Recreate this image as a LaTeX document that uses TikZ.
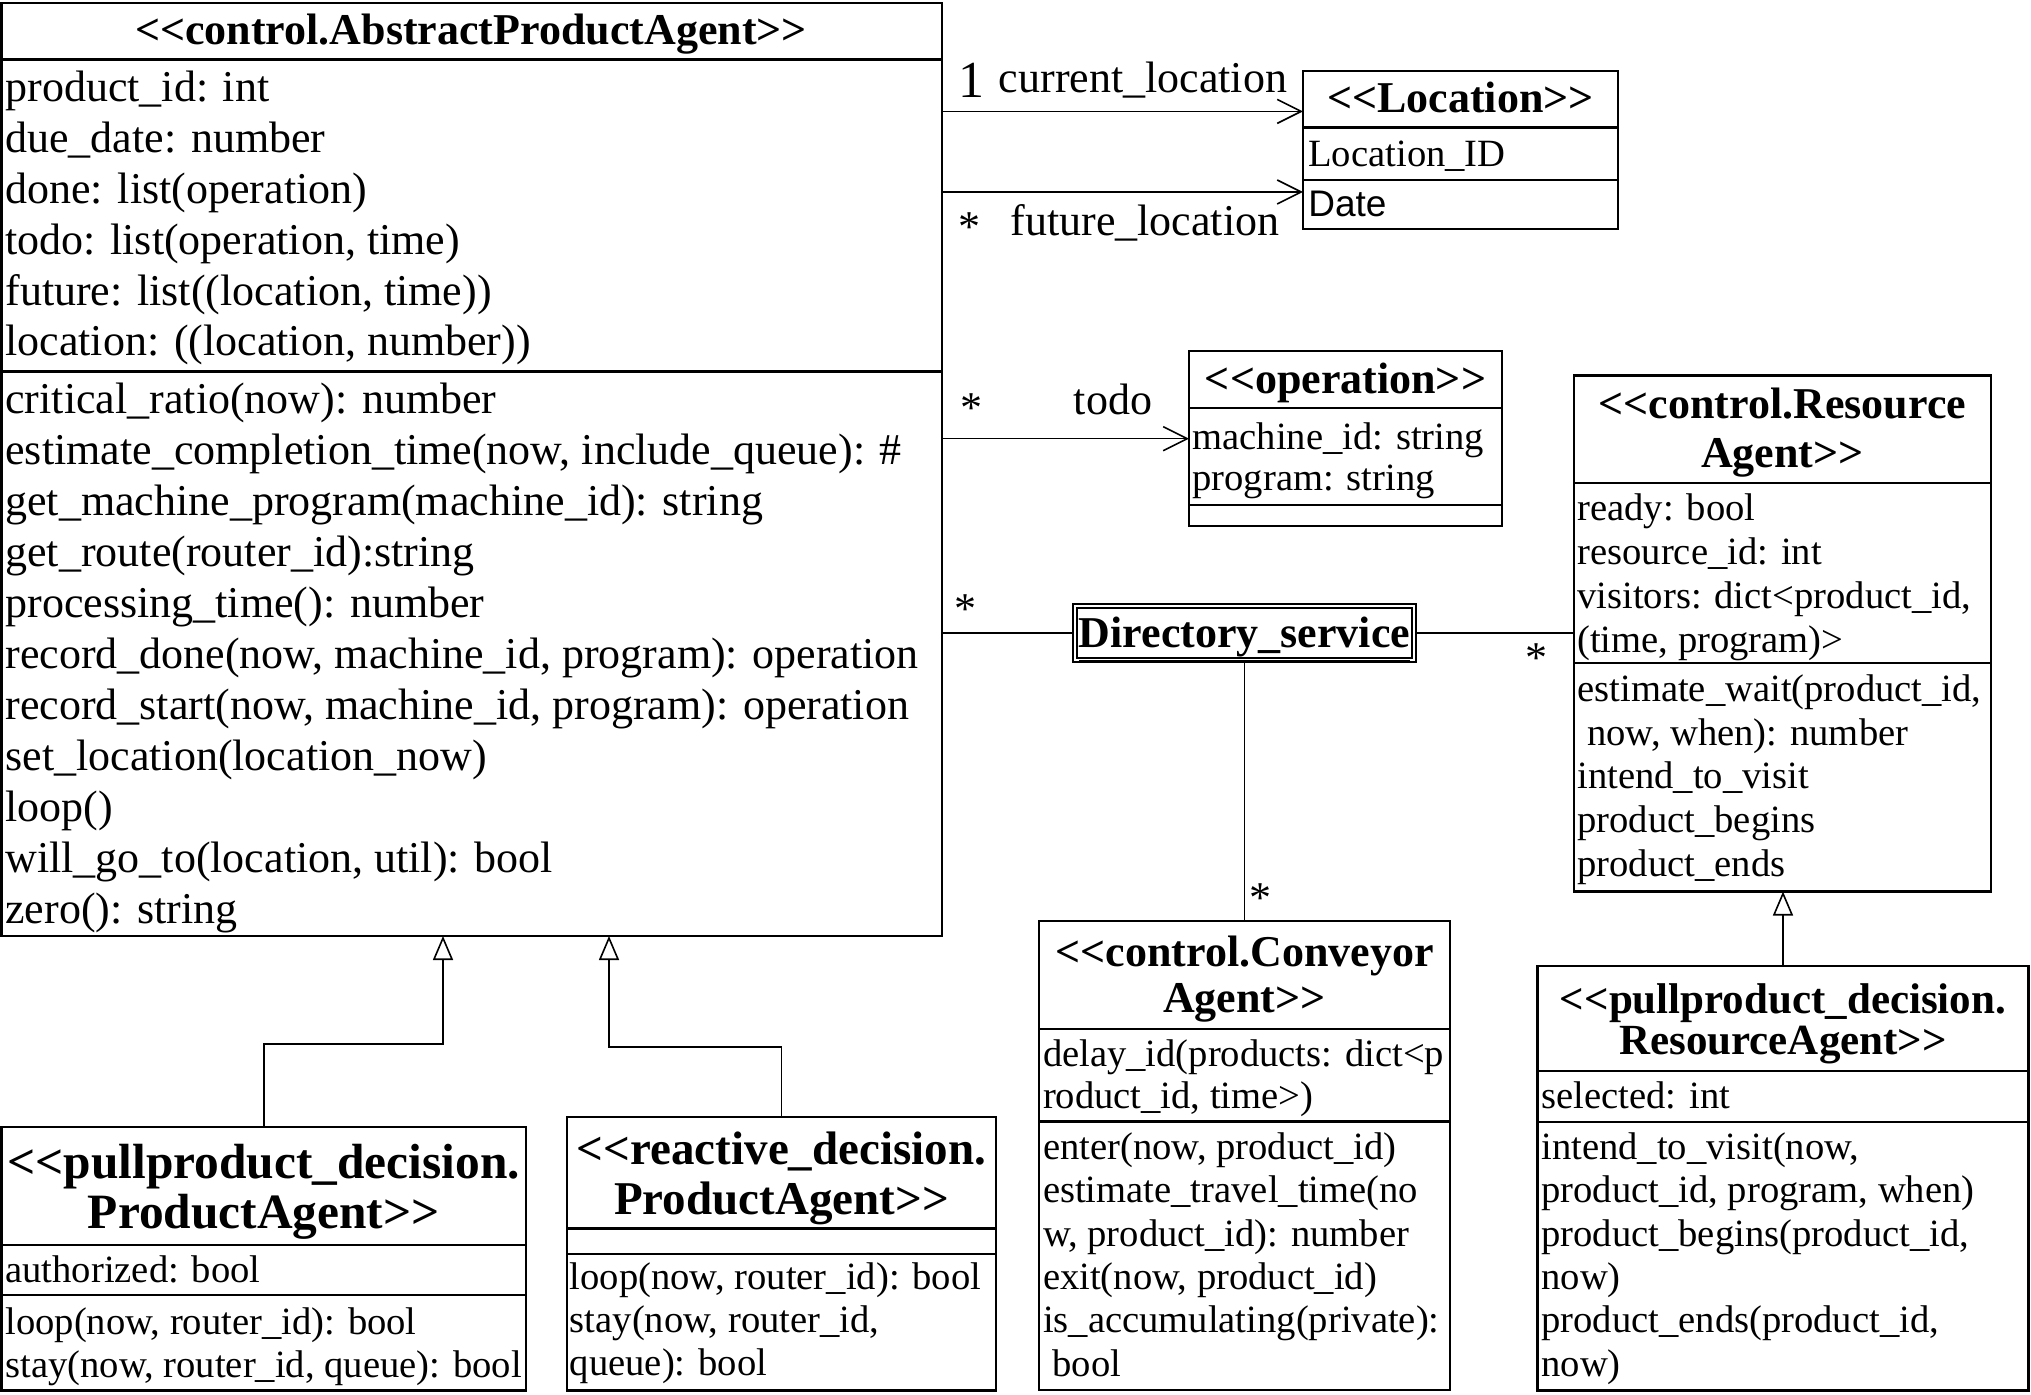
\documentclass[tikz,border=0pt]{standalone}
\usepackage{fontspec}
\setmainfont{Liberation Serif}[Ligatures=TeXOff]
\newfontfamily\sansf{Liberation Sans}[Ligatures=TeXOff]
\usetikzlibrary{arrows.meta}
\tikzset{
 box/.style={draw, line width=1.3pt, inner sep=0, outer sep=0, anchor=north west},
 sepl/.style={line width=1.3pt},
 conn/.style={line width=0.8pt},
 assoc/.style={conn, -{Straight Barb[length=12pt,width=12pt,line width=0.8pt]}},
 gen/.style={conn, -{Triangle[open,length=12pt,width=10pt,line width=0.8pt,fill=white]}},
 tbig/.style={font=\fontsize{22}{26}\selectfont, inner sep=0, text height=15.4pt, text depth=4.4pt, yshift=-1.5pt},
 tsmall/.style={font=\fontsize{19.3}{23}\selectfont, inner sep=0, text height=13.5pt, text depth=3.9pt, yshift=-1.5pt},
 hbig/.style={font=\fontsize{22}{26}\selectfont\bfseries, inner sep=0, text height=15.4pt, text depth=4.4pt, yshift=-1.5pt},
 hpp/.style={font=\fontsize{24.7}{29}\selectfont\bfseries, inner sep=0, text height=17.3pt, text depth=4.9pt, yshift=-1.5pt},
 hrp/.style={font=\fontsize{23.5}{28}\selectfont\bfseries, inner sep=0, text height=16.5pt, text depth=4.7pt, yshift=-1.5pt},
 hpr/.style={font=\fontsize{21.5}{26}\selectfont\bfseries, inner sep=0, text height=15pt, text depth=4.3pt, yshift=-1.5pt},
 mstar/.style={font=\fontsize{22}{26}\selectfont, inner sep=0, text height=15pt, text depth=0pt, yshift=-2.8pt},
 mone/.style={font=\fontsize{26}{30}\selectfont, inner sep=0, text height=18pt, text depth=0pt},
}
\newcommand\cbox[6]{%
 \node[box, minimum width={(#4-#2)*0.5pt}, minimum height={(#5-#3)*0.5pt}] (#1) at (#2,#3) {};
 \foreach \s in {#6} \draw[sepl] (#2,\s) -- (#4,\s);}
\newcommand\tlines[6]{%
 \foreach \mytext [count=\i] in {#6} \node[#5, anchor=west] (#1\i) at (#2,{#3+(\i-1)*#4}) {\mytext};}
\begin{document}
\begin{tikzpicture}[x=0.5pt,y=-0.5pt]
\fill[white] (0,0) rectangle (2031,1395);
\useasboundingbox (0,0) rectangle (2031,1395);

% AbstractProductAgent
\cbox{A}{1.5}{3}{942}{936}{59.6,371.8}
\node[hbig] (Ah) at (471,31) {<<control.AbstractProductAgent>>};
\tlines{Aa}{5}{88}{50.8}{tbig}{{product\_id: int},{due\_date: number},{done: list(operation)},{todo: list(operation, time)},{future: list((location, time))},{location: ((location, number))}}
\tlines{Am}{5}{400}{50.9}{tbig}{{critical\_ratio(now): number},{estimate\_completion\_time(now, include\_queue): \#},{get\_machine\_program(machine\_id): string},{get\_route(router\_id):string},{processing\_time(): number},{record\_done(now, machine\_id, program): operation},{record\_start(now, machine\_id, program): operation},{set\_location(location\_now)},{loop()},{will\_go\_to(location, util): bool},{zero(): string}}

% Location
\cbox{L}{1303}{71}{1618}{229}{127.5,180}
\node[hbig] (Lh) at (1460.5,99) {<<Location>>};
\node[tsmall, anchor=west] (La1) at (1308,154) {Location\_ID};
\node[tsmall, anchor=west, font=\fontsize{18.5}{22}\selectfont\sansf] (La2) at (1308,204) {Date};

% operation
\cbox{O}{1189}{351}{1502}{526}{408,505}
\node[hbig] (Oh) at (1345.5,380) {<<operation>>};
\tlines{Oa}{1192}{437}{41}{tsmall}{{machine\_id: string},{program: string}}

% Directory service
\node[box, minimum width={343*0.5pt}, minimum height={58*0.5pt}] (D) at (1073,604) {};
\draw[line width=0.8pt] ([shift={(4,4)}]D.north west) rectangle ([shift={(-4,-4)}]D.south east);
\node[hbig] (Dt) at (1244.5,634) {\underline{Directory\_service}};

% ResourceAgent
\cbox{R}{1574}{375.5}{1991}{891.5}{483,663}
\node[hbig] (Rh1) at (1782.5,405) {<<control.Resource};
\node[hbig] (Rh2) at (1782.5,453.6) {Agent>>};
\tlines{Ra}{1577}{508}{44}{tsmall}{{ready: bool},{resource\_id: int},{visitors: dict<product\_id,},{(time, program)>}}
\tlines{Rm}{1577}{689}{43.7}{tsmall}{{estimate\_wait(product\_id,},{\ now, when): number},{intend\_to\_visit},{product\_begins},{product\_ends}}

% ConveyorAgent
\cbox{C}{1039}{921}{1450}{1390}{1029,1121.5}
\node[hbig] (Ch1) at (1244.5,952) {<<control.Conveyor};
\node[hbig] (Ch2) at (1244.5,998) {Agent>>};
\tlines{Ca}{1042.6}{1054}{41.5}{tsmall}{{delay\_id(products: dict<p},{roduct\_id, time>)}}
\tlines{Cm}{1042.6}{1147}{43.3}{tsmall}{{enter(now, product\_id)},{estimate\_travel\_time(no},{w, product\_id): number},{exit(now, product\_id)},{is\_accumulating(private):},{\ bool}}

% pullproduct ProductAgent
\cbox{PP}{1.5}{1127}{526}{1390.5}{1245,1295}
\node[hpp] (PPh1) at (263.75,1163) {<<pullproduct\_decision.};
\node[hpp] (PPh2) at (263.75,1213) {ProductAgent>>};
\node[tsmall, anchor=west] (PPa1) at (5,1270) {authorized: bool};
\tlines{PPm}{5}{1321.7}{43.3}{tsmall}{{loop(now, router\_id): bool},{stay(now, router\_id, queue): bool}}

% reactive ProductAgent
\cbox{RP}{567}{1117}{996}{1390.5}{1228.5,1254}
\node[hrp] (RPh1) at (781.5,1150) {<<reactive\_decision.};
\node[hrp] (RPh2) at (781.5,1200) {ProductAgent>>};
\tlines{RPm}{569.5}{1276.7}{43.2}{tsmall}{{loop(now, router\_id): bool},{stay(now, router\_id,},{queue): bool}}

% pullproduct ResourceAgent
\cbox{PR}{1537.5}{966}{2028.5}{1390.5}{1071,1122}
\node[hpr] (PRh1) at (1783,1000) {<<pullproduct\_decision.};
\node[hpr] (PRh2) at (1783,1041) {ResourceAgent>>};
\node[tsmall, anchor=west] (PRa1) at (1541,1095.5) {selected: int};
\tlines{PRm}{1541}{1147}{43.3}{tsmall}{{intend\_to\_visit(now,},{product\_id, program, when)},{product\_begins(product\_id,},{now)},{product\_ends(product\_id,},{now)}}

% connectors
\coordinate (cA1) at (942,111.4);
\draw[assoc] (cA1) -- (cA1 -| L.west);
\coordinate (cA2) at (942,192);
\draw[assoc] (cA2) -- (cA2 -| L.west);
\coordinate (cA3) at (942,438.7);
\draw[assoc] (cA3) -- (cA3 -| O.west);
\draw[conn] (D.west -| A.east) -- (D.west);
\draw[conn] (D.east) -- (D.east -| R.west);
\draw[conn] (D.south) -- (D.south |- C.north);
\coordinate (g1) at (443,1044);
\draw[gen] (PP.north) |- (g1) -- (g1 |- A.south);
\coordinate (g2) at (609,1046.7);
\draw[gen] (RP.north) |- (g2) -- (g2 |- A.south);
\draw[gen] (PR.north) -- (PR.north |- R.south);

% labels
\node[mone] (m1) at (971.5,80) {1};
\node[tbig] (n1) at (1143,79) {current\_location};
\node[mstar] (m2) at (969,221) {*};
\node[tbig] (n2) at (1145,222) {future\_location};
\node[mstar] (m3) at (971.5,402) {*};
\node[tbig] (n3) at (1113,401) {todo};
\node[mstar] (m4) at (965,603) {*};
\node[mstar] (m5) at (1536,651.5) {*};
\node[mstar] (m6) at (1260,892) {*};
\end{tikzpicture}
\end{document}
